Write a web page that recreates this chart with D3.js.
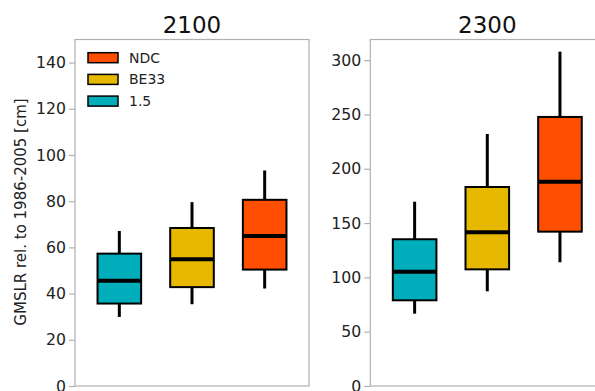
<!DOCTYPE html>
<html><head><meta charset="utf-8">
<script src="https://cdn.jsdelivr.net/npm/d3@7"></script>
<style>body{margin:0;background:#fff}svg{display:block}text{font-family:"DejaVu Sans",sans-serif}</style>
</head><body><svg id="c" width="595" height="391"></svg>
<script>
const scenarios = ["1.5", "BE33", "NDC"];
const colors = ["#00aebb", "#e6b800", "#ff4e00"];
// 2100: [whiskerLow, q1, median, q3, whiskerHigh]
const stats2100 = [[29.9, 35.7, 45.6, 57.3, 67.1], [35.4, 42.8, 54.9, 68.4, 79.6], [42.2, 50.4, 64.9, 80.6, 93.3]];
const stats2300 = [[66.6, 78.9, 105.2, 135.1, 169.7], [87.2, 107.4, 141.5, 183.2, 232.0], [113.9, 142.1, 188.1, 247.7, 307.8]];
const ticks2100 = [0, 20, 40, 60, 80, 100, 120, 140];
const ticks2300 = [0, 50, 100, 150, 200, 250, 300];
const legendOrder = ["NDC", "BE33", "1.5"];

const svg = d3.select("#c");
const plotTop = 39.5, plotBottom = 386;

function panel(left, title, stats, ymax, ticks) {
  const w = 234;
  const x = d3.scaleLinear().domain([0.39, 3.61]).range([left, left + w]);
  const y = d3.scaleLinear().domain([0, ymax]).range([plotBottom, plotTop]);
  const g = svg.append("g");
  g.append("rect").attr("x", left).attr("y", plotTop).attr("width", w).attr("height", plotBottom - plotTop)
    .attr("fill", "none").attr("stroke", "#b0b0b0").attr("stroke-width", 1.2);
  const ax = g.append("g").attr("transform", `translate(${left},0)`)
    .call(d3.axisLeft(y).tickValues(ticks).tickSize(6).tickPadding(3).tickFormat(d3.format("d")));
  ax.select(".domain").remove();
  ax.selectAll(".tick line").attr("stroke", "#b0b0b0").attr("stroke-width", 1.2);
  ax.selectAll(".tick text").attr("font-size", 15.7).attr("fill", "#222").attr("font-family", "DejaVu Sans");
  g.append("text").attr("x", left + w / 2).attr("y", 33).attr("text-anchor", "middle")
    .attr("font-size", 23).attr("fill", "#111").text(title);
  const bw = 0.6;
  stats.forEach((s, i) => {
    const c = i + 1;
    g.append("line").attr("x1", x(c)).attr("x2", x(c)).attr("y1", y(s[0])).attr("y2", y(s[1]))
      .attr("stroke", "#000").attr("stroke-width", 3);
    g.append("line").attr("x1", x(c)).attr("x2", x(c)).attr("y1", y(s[3])).attr("y2", y(s[4]))
      .attr("stroke", "#000").attr("stroke-width", 3);
    g.append("rect").attr("x", x(c - bw / 2)).attr("width", x(c + bw / 2) - x(c - bw / 2))
      .attr("y", y(s[3])).attr("height", y(s[1]) - y(s[3]))
      .attr("fill", colors[i]).attr("stroke", "#000").attr("stroke-width", 2);
    g.append("line").attr("x1", x(c - bw / 2)).attr("x2", x(c + bw / 2)).attr("y1", y(s[2])).attr("y2", y(s[2]))
      .attr("stroke", "#000").attr("stroke-width", 4);
  });
  return g;
}

panel(75, "2100", stats2100, 150, ticks2100);
panel(370.3, "2300", stats2300, 319, ticks2300);

const lg = svg.append("g");
legendOrder.forEach((name, k) => {
  const i = scenarios.indexOf(name);
  const cy = 57.7 + k * 21.7;
  lg.append("rect").attr("x", 88).attr("y", cy - 5).attr("width", 30).attr("height", 10)
    .attr("fill", colors[i]).attr("stroke", "#000").attr("stroke-width", 1.5);
  lg.append("text").attr("x", 129).attr("y", cy + 5).attr("font-size", 14).attr("fill", "#222").text(name);
});

svg.append("text").attr("transform", "translate(26,212) rotate(-90)").attr("text-anchor", "middle")
  .attr("font-size", 15).attr("fill", "#222").text("GMSLR rel. to 1986-2005 [cm]");
</script></body></html>
